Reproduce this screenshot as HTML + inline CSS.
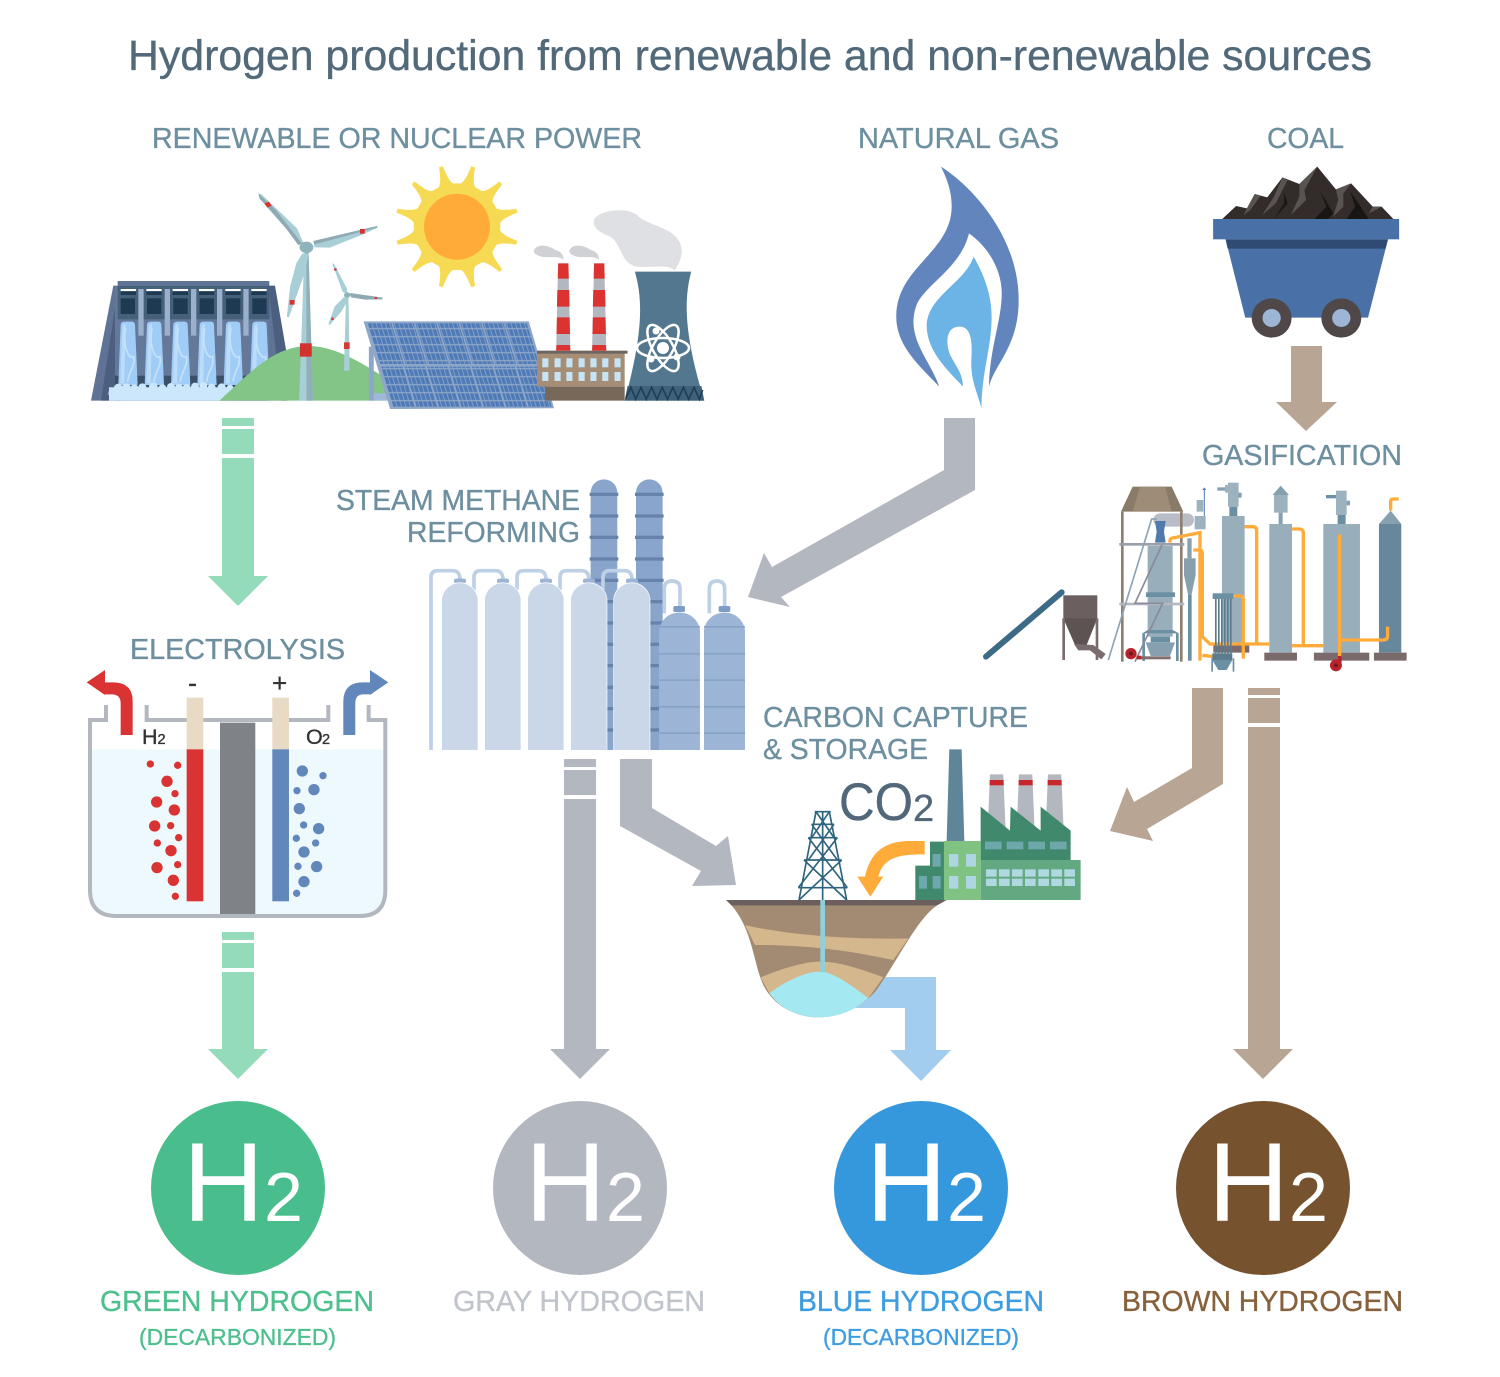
<!DOCTYPE html>
<html><head><meta charset="utf-8"><style>html,body{margin:0;padding:0;background:#fff}svg{display:block}text{font-family:"Liberation Sans",sans-serif}.t{stroke-width:.35;paint-order:stroke}</style></head><body>
<svg xmlns="http://www.w3.org/2000/svg" width="1500" height="1377" viewBox="0 0 1500 1377">
<defs>
<pattern id="cells" width="11" height="24" patternUnits="userSpaceOnUse" patternTransform="skewX(13.9) translate(0,2)"><rect width="11" height="24" fill="#8ea6c8"/><rect x="1" y="2" width="9" height="20" fill="#4f7ab8"/></pattern>
<path id="ray" d="M-33,-124C-16,-124 -10,-150 -6,-186L6,-186C10,-150 16,-124 33,-124L0,0Z" fill="#f7da54"/>
<g id="fall">
<path d="M100,345L107,165Q108,155 118,155H140Q150,155 150,165L158,345Z" fill="#a0cdf7"/>
<path d="M106,340L112,175Q114,160 122,162L118,340Z" fill="#bcdcf8"/>
<path d="M122,175C112,230 132,270 146,260C152,290 132,300 128,335" fill="none" stroke="#c5e2fa" stroke-width="5"/>
</g>
</defs>
<rect width="1500" height="1377" fill="#fff"/>

<!-- titles -->
<text class="t" x="128" y="70" font-size="42.8" fill="#52697a" stroke="#52697a" textLength="1244" lengthAdjust="spacingAndGlyphs">Hydrogen production from renewable and non-renewable sources</text>
<g font-size="29" fill="#6d8fa0" stroke="#6d8fa0" class="t">
<text x="152" y="148" textLength="490" lengthAdjust="spacingAndGlyphs">RENEWABLE OR NUCLEAR POWER</text>
<text x="858" y="148" textLength="201" lengthAdjust="spacingAndGlyphs">NATURAL GAS</text>
<text x="1267" y="148" textLength="77" lengthAdjust="spacingAndGlyphs">COAL</text>
<text x="1202" y="465" textLength="200" lengthAdjust="spacingAndGlyphs">GASIFICATION</text>
<text x="336" y="510" textLength="244" lengthAdjust="spacingAndGlyphs">STEAM METHANE</text>
<text x="407" y="542" textLength="173" lengthAdjust="spacingAndGlyphs">REFORMING</text>
<text x="130" y="659" textLength="215" lengthAdjust="spacingAndGlyphs">ELECTROLYSIS</text>
<text x="763" y="727" textLength="265" lengthAdjust="spacingAndGlyphs">CARBON CAPTURE</text>
<text x="763" y="759" textLength="165" lengthAdjust="spacingAndGlyphs">&amp; STORAGE</text>
</g>

<!-- arrows -->
<g fill="#93dbb9">
<path d="M222,418H254V576H268L238,606L208,576H222Z"/>
<path d="M222,932H254V1049H268L238,1079L208,1049H222Z"/>
</g>
<g fill="#fff">
<rect x="220" y="426" width="36" height="3"/><rect x="220" y="454" width="36" height="4"/>
<rect x="220" y="940" width="36" height="3"/><rect x="220" y="968" width="36" height="4"/>
</g>
<path d="M564,759H596V1049H610L580,1079L550,1049H564Z" fill="#b3b7c0"/>
<rect x="562" y="767" width="36" height="3" fill="#fff"/><rect x="562" y="795" width="36" height="4" fill="#fff"/>
<path d="M1248,688H1280V1049H1293L1263,1079L1233,1049H1248Z" fill="#b8a593"/>
<rect x="1246" y="695" width="36" height="3" fill="#fff"/><rect x="1246" y="723" width="36" height="4" fill="#fff"/>
<path d="M1291,346H1322V402H1337L1306,431L1276,402H1291Z" fill="#b8a593"/>
<path d="M944,418H975V490L781,597L790,607L748,597L764,553L772,567L944,470Z" fill="#b3b7c0"/>
<path d="M620,759H652V808L716,846L728,836L736,885L692,886L701,871L620,826Z" fill="#b3b7c0"/>
<path d="M1192,688H1223V784L1147,829L1153,841L1110,831L1127,787L1134,802L1192,768Z" fill="#b8a593"/>
<path d="M855,977H936V1050H951L921,1081L890,1050H905V1008H850Z" fill="#a2cdee"/>

<!-- H2 circles -->
<circle cx="238" cy="1188" r="87" fill="#4abd8c"/>
<circle cx="580" cy="1188" r="87" fill="#b3b7c0"/>
<circle cx="921" cy="1188" r="87" fill="#3698dc"/>
<circle cx="1263" cy="1188" r="87" fill="#77522e"/>
<g fill="#fff">
<text x="183" y="1221" font-size="112">H</text><text x="264" y="1221" font-size="70">2</text>
<text x="525" y="1221" font-size="112">H</text><text x="606" y="1221" font-size="70">2</text>
<text x="866" y="1221" font-size="112">H</text><text x="947" y="1221" font-size="70">2</text>
<text x="1208" y="1221" font-size="112">H</text><text x="1289" y="1221" font-size="70">2</text>
</g>
<g font-size="29" class="t">
<text x="100" y="1311" fill="#4dc08e" stroke="#4dc08e" textLength="274" lengthAdjust="spacingAndGlyphs">GREEN HYDROGEN</text>
<text x="453" y="1311" fill="#c0c4cb" stroke="#c0c4cb" textLength="252" lengthAdjust="spacingAndGlyphs">GRAY HYDROGEN</text>
<text x="798" y="1311" fill="#3d9de0" stroke="#3d9de0" textLength="246" lengthAdjust="spacingAndGlyphs">BLUE HYDROGEN</text>
<text x="1122" y="1311" fill="#87613b" stroke="#87613b" textLength="281" lengthAdjust="spacingAndGlyphs">BROWN HYDROGEN</text>
</g>
<g font-size="23.4" class="t">
<text x="139" y="1345" fill="#4dc08e" stroke="#4dc08e" textLength="197" lengthAdjust="spacingAndGlyphs">(DECARBONIZED)</text>
<text x="823" y="1345" fill="#3d9de0" stroke="#3d9de0" textLength="196" lengthAdjust="spacingAndGlyphs">(DECARBONIZED)</text>
</g>

<!-- sun -->
<g transform="translate(457,226.7) scale(0.3333)">
<circle r="130" fill="#f7da54"/>
<use href="#ray" transform="rotate(15)"/><use href="#ray" transform="rotate(45)"/><use href="#ray" transform="rotate(75)"/><use href="#ray" transform="rotate(105)"/><use href="#ray" transform="rotate(135)"/><use href="#ray" transform="rotate(165)"/><use href="#ray" transform="rotate(195)"/><use href="#ray" transform="rotate(225)"/><use href="#ray" transform="rotate(255)"/><use href="#ray" transform="rotate(285)"/><use href="#ray" transform="rotate(315)"/><use href="#ray" transform="rotate(345)"/>
<circle r="99" fill="#ffab3a"/>
</g>

<!-- dam -->
<g transform="translate(85,270) scale(0.3333)">
<polygon points="18,392 85,47 555,47 605,250 605,392" fill="#5f7396"/>
<polygon points="48,392 100,47 110,392" fill="#4d5f80"/>
<polygon points="550,47 570,47 605,250 605,392 590,392" fill="#4d5f80"/>
<rect x="98" y="33" width="455" height="15" fill="#5f7396"/>
<rect x="90" y="48" width="462" height="344" fill="#64789a"/>
<rect x="98" y="48" width="455" height="100" fill="#466079"/>
<g fill="#fff"><rect x="107" y="57" width="46" height="6"/><rect x="184" y="57" width="46" height="6"/><rect x="263" y="57" width="46" height="6"/><rect x="342" y="57" width="46" height="6"/><rect x="421" y="57" width="46" height="6"/><rect x="499" y="57" width="46" height="6"/></g>
<g fill="#1e3a52">
<rect x="107" y="65" width="46" height="10"/><rect x="184" y="65" width="46" height="10"/><rect x="263" y="65" width="46" height="10"/><rect x="342" y="65" width="46" height="10"/><rect x="421" y="65" width="46" height="10"/><rect x="499" y="65" width="46" height="10"/>
<rect x="107" y="85" width="43" height="47"/><rect x="186" y="85" width="43" height="47"/><rect x="265" y="85" width="43" height="47"/><rect x="344" y="85" width="43" height="47"/><rect x="423" y="85" width="43" height="47"/><rect x="502" y="85" width="43" height="47"/>
</g>
<g fill="#9ab0cc"><rect x="160" y="57" width="16" height="140"/><rect x="239" y="57" width="16" height="140"/><rect x="318" y="57" width="16" height="140"/><rect x="396" y="57" width="16" height="140"/><rect x="475" y="57" width="16" height="140"/></g>
<rect x="90" y="317" width="462" height="35" fill="#3a5068"/>
<use href="#fall"/><use href="#fall" x="79"/><use href="#fall" x="158"/><use href="#fall" x="237"/><use href="#fall" x="316"/><use href="#fall" x="395"/>
<g fill="#cce7fc">
<rect x="72" y="352" width="380" height="40"/>
<circle cx="84" cy="370" r="14"/><circle cx="100" cy="354" r="13"/><circle cx="124" cy="353" r="13"/><circle cx="148" cy="355" r="12"/><circle cx="172" cy="352" r="12"/><circle cx="205" cy="350" r="13"/><circle cx="232" cy="355" r="12"/><circle cx="258" cy="351" r="12"/><circle cx="282" cy="353" r="12"/><circle cx="305" cy="354" r="12"/><circle cx="330" cy="350" r="12"/><circle cx="355" cy="348" r="12"/><circle cx="380" cy="353" r="12"/><circle cx="410" cy="352" r="12"/><circle cx="435" cy="354" r="10"/>
</g>
</g>

<!-- renewable scene -->
<g transform="translate(80,160) scale(0.408,0.3333)">
<path d="M342,722C430,620 480,560 560,558C620,558 680,600 750,655V722Z" fill="#82c587"/>
<polygon points="647,632 661,632 658,410 652,410" fill="#a8ced6"/><rect x="647" y="547" width="14" height="20" fill="#d33a36"/>
<polygon points="618,310 623,312 654,385 656,402 644,396" fill="#a8ced6"/><polygon points="662,399 742,413 741,418 700,419 664,412" fill="#8ea9b2"/><polygon points="648,410 658,418 641,454 612,495 609,492 624,440" fill="#a8ced6"/>
<circle cx="655" cy="405" r="8" fill="#8fb3ba"/>
<rect x="623" y="325" width="6" height="7" fill="#d33a36"/><rect x="722" y="411" width="6" height="6" fill="#d33a36"/><rect x="616" y="473" width="6" height="7" fill="#d33a36"/>
<polygon points="537,722 571,722 560,270 550,270" fill="#a8ced6"/><polygon points="555,270 560,270 571,722 555,722" fill="#8fb0b8"/><rect x="539" y="550" width="29" height="40" fill="#d3322f"/>
<polygon points="437,100 445,103 532,205 548,250 535,255 505,205 440,115" fill="#a8ced6"/><polygon points="437,100 440,115 505,205 535,255 544,250 480,150" fill="#8ea9b2"/>
<polygon points="572,243 728,198 730,203 690,225 612,263 575,262" fill="#a8ced6"/><polygon points="572,243 728,198 729,202 575,253" fill="#8ea9b2"/>
<polygon points="545,280 560,282 553,330 512,472 507,470 515,380 530,310" fill="#a8ced6"/>
<circle cx="555" cy="262" r="17" fill="#8fb3ba"/>
<rect x="455" y="127" width="12" height="14" fill="#d3322f" transform="rotate(-30 461 134)"/><rect x="686" y="207" width="12" height="14" fill="#d3322f"/><rect x="514" y="420" width="12" height="14" fill="#d3322f"/>
<!-- solar -->
<rect x="708" y="560" width="12" height="162" fill="#8ea6c8"/><polygon points="720,700 756,700 760,722 720,722" fill="#a0b8d8"/>
<polygon points="695,484 1100,484 1162,745 760,747" fill="#8ea6c8"/>
<polygon points="705,490 1095,490 1125,612 736,612" fill="url(#cells)"/>
<polygon points="738,620 1127,620 1156,740 768,740" fill="url(#cells)"/>
<g stroke="#8ea6c8" stroke-width="4" fill="none">
<path d="M765,490L796,612M820,490L851,612M875,490L906,612M930,490L961,612M985,490L1016,612M1040,490L1071,612"/>
<path d="M793,620L823,740M848,620L878,740M903,620L933,740M958,620L988,740M1013,620L1043,740M1068,620L1098,740"/>
</g>
<!-- factory -->
<rect x="1120" y="578" width="215" height="102" fill="#a58e75"/><rect x="1140" y="680" width="195" height="42" fill="#77685a"/>
<rect x="1120" y="572" width="222" height="9" fill="#6e6560"/>
<g fill="#c6e4f5">
<rect x="1133" y="595" width="15" height="27"/><rect x="1163" y="595" width="15" height="27"/><rect x="1192" y="595" width="15" height="27"/><rect x="1222" y="595" width="15" height="27"/><rect x="1251" y="595" width="15" height="27"/><rect x="1280" y="595" width="15" height="27"/><rect x="1310" y="595" width="15" height="27"/>
<rect x="1133" y="636" width="15" height="27"/><rect x="1163" y="636" width="15" height="27"/><rect x="1192" y="636" width="15" height="27"/><rect x="1222" y="636" width="15" height="27"/><rect x="1251" y="636" width="15" height="27"/><rect x="1280" y="636" width="15" height="27"/><rect x="1310" y="636" width="15" height="27"/>
</g>
<polygon points="1172,310 1197,310 1202,572 1167,572" fill="#b3b7c0"/><polygon points="1260,310 1285,310 1290,572 1255,572" fill="#b3b7c0"/>
<g fill="#dc3330">
<polygon points="1172,310 1197,310 1198,356 1171,356"/><polygon points="1170,390 1199,390 1200,440 1169,440"/><polygon points="1169,472 1200,472 1201,522 1168,522"/><polygon points="1168,555 1201,555 1202,572 1167,572"/>
<polygon points="1260,310 1285,310 1286,356 1259,356"/><polygon points="1258,390 1287,390 1288,440 1257,440"/><polygon points="1257,472 1288,472 1289,522 1256,522"/><polygon points="1256,555 1289,555 1290,572 1255,572"/>
</g>
<path d="M1113,270C1120,250 1150,255 1165,270C1180,275 1185,285 1185,300C1175,285 1150,295 1130,290C1118,285 1110,280 1113,270Z" fill="#d0d1d5"/>
<path d="M1200,270C1207,250 1237,255 1252,270C1267,275 1272,285 1272,300C1262,285 1237,295 1217,290C1205,285 1197,280 1200,270Z" fill="#d0d1d5"/>
<path d="M1260,180C1270,150 1340,140 1365,165C1390,200 1470,200 1475,270C1475,300 1465,315 1458,332C1440,310 1400,325 1365,320C1320,310 1330,240 1290,225C1270,215 1255,200 1260,180Z" fill="#dfe0e3"/>
<!-- tower -->
<path d="M1360,335H1498C1480,420 1480,520 1530,722H1335C1380,520 1380,420 1360,335Z" fill="#53778e"/>
<polygon points="1342,678 1523,678 1530,722 1335,722" fill="#3f6179"/>
<path d="M1338,715L1350,682L1362,718L1375,682L1388,718L1401,682L1414,718L1427,682L1440,718L1453,682L1466,718L1479,682L1492,718L1505,682L1518,718L1526,690" fill="none" stroke="#1e3d58" stroke-width="4"/>
</g>
<g fill="none" stroke="#fff" stroke-width="2.5">
<ellipse cx="663" cy="348" rx="26" ry="10"/><ellipse cx="663" cy="348" rx="26" ry="10" transform="rotate(60 663 348)"/><ellipse cx="663" cy="348" rx="26" ry="10" transform="rotate(120 663 348)"/>
</g>
<g fill="#fff"><circle cx="663" cy="348" r="6"/><circle cx="651" cy="359" r="3.5"/><circle cx="677" cy="357" r="3.5"/><circle cx="656" cy="331" r="3.5"/></g>

<!-- flame & cart -->
<g transform="translate(880,160) scale(0.3382,0.3333)">
<path fill="#6185bc" d="M180,20C260,70 410,220 410,420C410,560 340,610 322,680C325,560 360,480 360,400C360,330 320,260 263,220C240,320 140,370 110,430C70,530 150,600 175,680C120,620 48,560 48,470C48,320 210,280 212,140C212,90 195,50 180,20Z"/>
<path fill="#6cb3e6" d="M277,290C310,350 332,410 330,480C328,570 300,640 300,745C285,690 268,660 270,600C272,560 275,500 235,500C190,500 195,560 210,590C225,620 245,640 245,680C210,640 140,580 138,500C138,410 250,370 277,290Z"/>
<polygon points="1012,177 1053,138 1085,145 1108,102 1145,112 1190,52 1240,72 1293,20 1348,88 1393,70 1457,140 1483,140 1518,177" fill="#332c2b"/>
<g fill="#595452"><polygon points="1108,102 1125,108 1095,150 1075,165 1085,145"/><polygon points="1190,52 1205,60 1170,130 1130,165 1165,110"/><polygon points="1293,20 1255,90 1260,120 1215,165 1240,110 1240,72"/><polygon points="1393,70 1370,100 1370,140 1340,170 1355,120 1348,88"/><polygon points="1457,140 1483,140 1465,150 1445,160"/></g>
<g fill="#181614"><polygon points="1195,95 1205,130 1165,177 1195,130"/><polygon points="1300,90 1340,160 1325,177 1285,177 1320,140"/><polygon points="1390,95 1415,130 1445,177 1380,177 1405,140"/></g>
<rect x="985" y="177" width="550" height="61" fill="#4a70a8"/>
<polygon points="1022,238 1502,238 1443,473 1080,473" fill="#4a70a8"/>
<polygon points="1022,238 1502,238 1495,266 1028,266" fill="#2f4b73"/>
<circle cx="1158" cy="474" r="59" fill="#4f4748"/><circle cx="1364" cy="474" r="59" fill="#4f4748"/>
<circle cx="1158" cy="474" r="27" fill="#9db6d6"/><circle cx="1364" cy="474" r="27" fill="#9db6d6"/>
</g>

<!-- gasification -->
<g transform="translate(980,470) scale(0.3333)">
<line x1="18" y1="560" x2="245" y2="367" stroke="#3d6b85" stroke-width="18" stroke-linecap="round"/>
<rect x="250" y="376" width="102" height="70" fill="#6b5f5f"/><polygon points="250,445 352,445 320,525 285,525" fill="#5c5352"/>
<rect x="247" y="445" width="8" height="125" fill="#7a6c6c"/><rect x="347" y="445" width="8" height="125" fill="#7a6c6c"/>
<polygon points="282,522 340,525 377,552 364,568 330,541 295,541" fill="#7a6c6c"/>
<rect x="520" y="130" width="122" height="40" rx="20" fill="#b9bdc7"/>
<rect x="503" y="228" width="75" height="272" fill="#98aebb"/><rect x="498" y="367" width="87" height="14" fill="#6b8fa3"/>
<polygon points="525,153 557,153 552,185 557,218 525,218 530,185" fill="#4f7aab"/>
<polygon points="503,480 578,480 597,490 487,490" fill="#6b8fa3"/>
<rect x="487" y="490" width="8" height="83" fill="#6b8fa3"/><rect x="588" y="490" width="8" height="83" fill="#6b8fa3"/>
<rect x="512" y="500" width="58" height="17" fill="#6b8fa3"/><polygon points="497,517 585,517 570,558 512,558" fill="#86a0b0"/>
<polygon points="423,125 458,50 575,50 610,125" fill="#8a7a68"/><polygon points="458,125 480,50 555,50 575,125" fill="#9e8c76"/>
<rect x="423" y="125" width="8" height="450" fill="#8e7f6f"/><rect x="600" y="125" width="8" height="450" fill="#8e7f6f"/>
<rect x="418" y="219" width="195" height="8" fill="#9b9eab"/><rect x="418" y="398" width="195" height="8" fill="#b3b7c0"/>
<path d="M385,570L515,147H530" fill="none" stroke="#8ea5b5" stroke-width="5"/>
<path d="M546,225L465,400H548L465,575" fill="none" stroke="#8a8a98" stroke-width="5"/>
<circle cx="453" cy="551" r="17" fill="#b8232c"/><circle cx="453" cy="551" r="6" fill="#701a20"/>
<rect x="470" y="559" width="102" height="9" fill="#7f6f6f"/><rect x="470" y="557" width="14" height="11" fill="#b8232c"/>
<rect x="622" y="205" width="13" height="60" fill="#86a0b0"/><rect x="612" y="265" width="35" height="50" fill="#86a0b0"/><polygon points="612,315 647,315 634,378 625,378" fill="#86a0b0"/><rect x="624" y="375" width="11" height="197" fill="#6b8fa3"/>
<line x1="673" y1="58" x2="673" y2="140" stroke="#4f7aab" stroke-width="3"/><polygon points="667,60 679,60 673,52" fill="#4f7aab"/>
<rect x="650" y="90" width="20" height="35" fill="#9db2bf"/><rect x="644" y="138" width="33" height="40" fill="#9db2bf"/>

<rect x="726" y="138" width="68" height="387" fill="#98aebb"/><rect x="700" y="525" width="108" height="23" fill="#7b6a6c"/>
<rect x="748" y="110" width="24" height="28" fill="#6b8fa3"/><rect x="744" y="38" width="32" height="72" fill="#9db2bf"/><rect x="712" y="52" width="23" height="10" fill="#86a0b0"/><rect x="735" y="45" width="10" height="23" fill="#9db2bf"/><rect x="775" y="68" width="10" height="15" fill="#86a0b0"/>
<rect x="868" y="162" width="68" height="386" fill="#98aebb"/><rect x="853" y="548" width="98" height="24" fill="#7b6a6c"/>
<rect x="896" y="128" width="12" height="34" fill="#86a0b0"/><rect x="882" y="75" width="41" height="53" fill="#9db2bf"/><polygon points="878,75 902,47 927,75" fill="#86a0b0"/>
<rect x="1030" y="162" width="110" height="386" fill="#98aebb"/><rect x="1002" y="548" width="166" height="24" fill="#7b6a6c"/>
<rect x="1073" y="135" width="24" height="27" fill="#6b8fa3"/><rect x="1068" y="62" width="32" height="73" fill="#9db2bf"/><rect x="1038" y="75" width="30" height="10" fill="#6b8fa3"/><rect x="1100" y="92" width="10" height="14" fill="#86a0b0"/>
<rect x="1197" y="162" width="67" height="386" fill="#67879c"/><polygon points="1197,162 1232,122 1264,162" fill="#86a0b0"/><rect x="1182" y="548" width="98" height="24" fill="#7b6a6c"/>

<g fill="none" stroke="#ffab3a" stroke-width="10">
<path d="M570,218V212Q570,205 578,204L660,188V572"/>
<path d="M640,240H658Q667,240 667,250V500L690,522H868"/>
<path d="M794,170H818Q830,170 830,182V522"/>
<path d="M936,177H958Q970,177 970,190V527M936,527H1030"/>
<path d="M760,378H780Q790,378 790,390V566"/>
<path d="M667,556L700,560"/>
<path d="M1080,510H1210Q1223,510 1223,497V470"/>
<path d="M1079,198V560" stroke-linecap="round"/>
<path d="M1232,122V95Q1232,87 1240,87H1256"/>
</g>
<rect x="1074" y="558" width="11" height="20" fill="#b8232c"/>
<circle cx="1068" cy="586" r="18" fill="#b8232c"/><circle cx="1068" cy="586" r="6" fill="#701a20"/>
<rect x="698" y="370" width="62" height="17" fill="#6b8fa3"/>
<g fill="#5d7b8e"><rect x="705" y="387" width="5" height="163"/><rect x="714" y="387" width="5" height="163"/><rect x="723" y="387" width="5" height="163"/><rect x="732" y="387" width="5" height="163"/><rect x="741" y="387" width="5" height="163"/><rect x="750" y="387" width="5" height="163"/></g>
<rect x="697" y="550" width="60" height="20" fill="#5d7b8e"/><polygon points="697,570 757,570 740,600 715,600" fill="#6b8fa3"/>
<rect x="694" y="565" width="5" height="40" fill="#6b8fa3"/><rect x="758" y="565" width="5" height="40" fill="#6b8fa3"/>
</g>

<!-- carbon capture -->
<g transform="translate(720,740) scale(0.3333)">
<path d="M35,497H650C590,540 540,650 470,750C420,810 350,832 295,832C220,832 145,790 120,710C100,650 90,560 35,497Z" fill="#a38a72"/>
<path d="M75,555C200,585 400,600 565,595L520,660C420,640 300,615 105,615Z" fill="#d5b78d"/>
<path d="M122,712C200,680 260,665 300,665C360,665 430,690 490,712L445,775L295,800L148,760Z" fill="#d5b78d"/>
<path d="M148,760C200,720 260,695 300,695C340,695 400,740 445,775C400,815 350,832 295,832C230,832 180,805 148,760Z" fill="#a4e8f2"/>
<polygon points="18,480 680,480 650,497 35,497" fill="#6b5e5c"/>
<rect x="301" y="480" width="14" height="217" fill="#8fd0dc"/>
<g stroke="#2f6480" stroke-width="5" fill="none">
<path d="M237,480L288,215M380,480L328,215M308,215V480M284,215H332M275,253H342M265,293H352M252,360H365M235,443H382"/>
<path d="M288,215L342,293M328,215L275,293M275,253L352,360M342,253L265,360M265,293L382,443M352,293L235,443M252,360L380,480M365,360L237,480"/>
</g>
<path d="M614,303V343C540,343 490,350 475,410H490L451,470L412,410H435C450,340 490,303 570,303Z" fill="#ffab3a"/>
<polygon points="688,28 725,28 733,303 680,303" fill="#5f8599"/>
<polygon points="810,103 850,103 857,270 803,270" fill="#b3b7c0"/><polygon points="897,103 937,103 944,270 890,270" fill="#b3b7c0"/><polygon points="984,103 1024,103 1031,270 977,270" fill="#b3b7c0"/>
<rect x="809" y="120" width="42" height="16" fill="#c8272c"/><rect x="896" y="120" width="42" height="16" fill="#c8272c"/><rect x="983" y="120" width="42" height="16" fill="#c8272c"/>
<polygon points="782,362 782,200 870,272 872,200 962,272 962,200 1052,272 1052,362" fill="#41896d"/>
<g fill="#6ea8ac"><rect x="795" y="305" width="50" height="23"/><rect x="860" y="305" width="50" height="23"/><rect x="925" y="305" width="50" height="23"/><rect x="990" y="305" width="50" height="23"/></g>
<rect x="782" y="360" width="300" height="120" fill="#62a981"/>
<g fill="#b0d8e0">
<rect x="798" y="388" width="32" height="22"/><rect x="837" y="388" width="32" height="22"/><rect x="876" y="388" width="32" height="22"/><rect x="915" y="388" width="32" height="22"/><rect x="955" y="388" width="32" height="22"/><rect x="994" y="388" width="32" height="22"/><rect x="1033" y="388" width="32" height="22"/>
<rect x="798" y="416" width="32" height="22"/><rect x="837" y="416" width="32" height="22"/><rect x="876" y="416" width="32" height="22"/><rect x="915" y="416" width="32" height="22"/><rect x="955" y="416" width="32" height="22"/><rect x="994" y="416" width="32" height="22"/><rect x="1033" y="416" width="32" height="22"/>
</g>
<polygon points="630,305 672,305 672,480 586,480 586,377 630,377" fill="#41896d"/>
<g fill="#6ea8ac"><rect x="638" y="342" width="24" height="38"/><rect x="597" y="408" width="24" height="38"/><rect x="638" y="408" width="24" height="38"/></g>
<rect x="672" y="303" width="110" height="177" fill="#80c282"/>
<g fill="#aed6e0"><rect x="687" y="342" width="28" height="38"/><rect x="738" y="342" width="30" height="38"/><rect x="687" y="408" width="28" height="38"/><rect x="738" y="408" width="30" height="38"/></g>
</g>
<text class="t" x="839" y="820" font-size="53" fill="#52687a" stroke="#52687a" textLength="74" lengthAdjust="spacingAndGlyphs">CO</text>
<text class="t" x="913" y="821" font-size="38" fill="#52687a" stroke="#52687a">2</text>

<!-- SMR -->
<g transform="translate(420,470) scale(0.3333)">
<path d="M512,840V68A40,40 0 0 1 592,68V840Z" fill="#8aa5cc"/>
<path d="M648,840V68A40,40 0 0 1 728,68V840Z" fill="#8aa5cc"/>
<g fill="#6684ab">
<rect x="509" y="68" width="86" height="10"/><rect x="509" y="133" width="86" height="10"/><rect x="509" y="197" width="86" height="10"/><rect x="509" y="262" width="86" height="10"/><rect x="509" y="326" width="86" height="10"/><rect x="509" y="390" width="86" height="10"/><rect x="509" y="454" width="86" height="10"/><rect x="509" y="518" width="86" height="10"/><rect x="509" y="582" width="86" height="10"/><rect x="509" y="647" width="86" height="10"/><rect x="509" y="711" width="86" height="10"/><rect x="509" y="775" width="86" height="10"/>
<rect x="645" y="68" width="86" height="10"/><rect x="645" y="133" width="86" height="10"/><rect x="645" y="197" width="86" height="10"/><rect x="645" y="262" width="86" height="10"/><rect x="645" y="326" width="86" height="10"/><rect x="645" y="390" width="86" height="10"/><rect x="645" y="454" width="86" height="10"/><rect x="645" y="518" width="86" height="10"/><rect x="645" y="582" width="86" height="10"/><rect x="645" y="647" width="86" height="10"/><rect x="645" y="711" width="86" height="10"/><rect x="645" y="775" width="86" height="10"/>
</g>
<g fill="none" stroke="#bdd0e6" stroke-width="11">
<path d="M33,840V322Q33,302 53,302H98Q120,302 120,330"/>
<path d="M162,360V322Q162,302 182,302H227Q249,302 249,330"/>
<path d="M291,360V322Q291,302 311,302H356Q378,302 378,330"/>
<path d="M420,360V322Q420,302 440,302H485Q507,302 507,330"/>
<path d="M549,360V322Q549,302 569,302H614Q636,302 636,330"/>
<path d="M733,430V356Q733,333 756,333Q780,333 780,356V410"/>
<path d="M868,430V356Q868,333 891,333Q914,333 914,356V410"/>
</g>
<g fill="#9cb4d5"><rect x="102" y="326" width="36" height="14" rx="6"/><rect x="231" y="326" width="36" height="14" rx="6"/><rect x="360" y="326" width="36" height="14" rx="6"/><rect x="489" y="326" width="36" height="14" rx="6"/><rect x="618" y="326" width="36" height="14" rx="6"/></g>
<g fill="#c9d7e9" stroke="#fff" stroke-width="4" paint-order="stroke">
<path d="M66,840V386A54,54 0 0 1 173,386V840Z"/><path d="M195,840V386A54,54 0 0 1 302,386V840Z"/><path d="M324,840V386A54,54 0 0 1 431,386V840Z"/><path d="M453,840V386A54,54 0 0 1 560,386V840Z"/><path d="M582,840V386A54,54 0 0 1 689,386V840Z"/>
</g>
<g fill="#7f9dc4"><rect x="760" y="408" width="35" height="18" rx="5"/><rect x="896" y="408" width="35" height="18" rx="5"/></g>
<path d="M717,840V480A62,60 0 0 1 840,480V840Z" fill="#9cb4d5"/><path d="M852,840V480A62,60 0 0 1 975,480V840Z" fill="#9cb4d5"/>
<g fill="#86a3c9"><rect x="717" y="468" width="258" height="5"/><rect x="717" y="549" width="258" height="5"/><rect x="717" y="628" width="258" height="5"/><rect x="717" y="708" width="258" height="5"/><rect x="717" y="787" width="258" height="5"/></g>
<rect x="840" y="440" width="12" height="402" fill="#fff"/>
</g>

<!-- electrolysis -->
<g transform="translate(80,660) scale(0.3333)">
<path d="M36,268H910V690Q910,762 840,762H110Q36,762 36,690Z" fill="#eef9fd"/>
<g fill="none" stroke="#b3b7c0" stroke-width="12">
<path d="M78,135V180H30V690Q30,768 110,768H840Q916,768 916,690V180H866V135"/>
<path d="M200,135V180H745V135"/>
</g>
<rect x="420" y="188" width="106" height="574" fill="#7f8388"/>
<rect x="320" y="113" width="50" height="155" fill="#e9dac6"/><rect x="320" y="268" width="50" height="456" fill="#d93433"/>
<rect x="577" y="113" width="50" height="155" fill="#e9dac6"/><rect x="577" y="268" width="50" height="456" fill="#6287bb"/>
<path d="M122,225V130Q122,103 95,103H75V105L20,67L75,30V67H100Q158,67 158,125V225Z" fill="#d93433"/>
<path d="M790,225V125Q790,67 848,67H870V30L925,67L870,105V103H850Q826,103 826,130V225Z" fill="#6287bb"/>
<g fill="#d93433">
<circle cx="211" cy="312" r="11"/><circle cx="293" cy="316" r="11"/><circle cx="261" cy="364" r="17"/><circle cx="285" cy="401" r="11"/><circle cx="230" cy="426" r="17"/><circle cx="283" cy="450" r="17"/><circle cx="224" cy="498" r="17"/><circle cx="272" cy="497" r="11"/><circle cx="296" cy="533" r="11"/><circle cx="232" cy="549" r="11"/><circle cx="273" cy="572" r="17"/><circle cx="293" cy="614" r="11"/><circle cx="231" cy="623" r="17"/><circle cx="280" cy="661" r="17"/><circle cx="286" cy="709" r="11"/>
</g>
<g fill="#6287bb">
<circle cx="667" cy="333" r="17"/><circle cx="729" cy="347" r="11"/><circle cx="651" cy="392" r="11"/><circle cx="702" cy="389" r="17"/><circle cx="658" cy="446" r="17"/><circle cx="671" cy="495" r="11"/><circle cx="716" cy="506" r="17"/><circle cx="649" cy="535" r="11"/><circle cx="707" cy="549" r="11"/><circle cx="672" cy="576" r="17"/><circle cx="654" cy="619" r="11"/><circle cx="710" cy="620" r="17"/><circle cx="672" cy="665" r="17"/><circle cx="650" cy="700" r="11"/>
</g>
</g>
<g fill="#333" stroke="#333" class="t">
<text x="188" y="692" font-size="27">-</text>
<text x="272" y="692" font-size="26">+</text>
<text x="142" y="744" font-size="21.5">H</text><text x="157.5" y="744" font-size="14.5">2</text>
<text x="306" y="744" font-size="21.5">O</text><text x="322" y="744" font-size="14.5">2</text>
</g>
</svg>
</body></html>
